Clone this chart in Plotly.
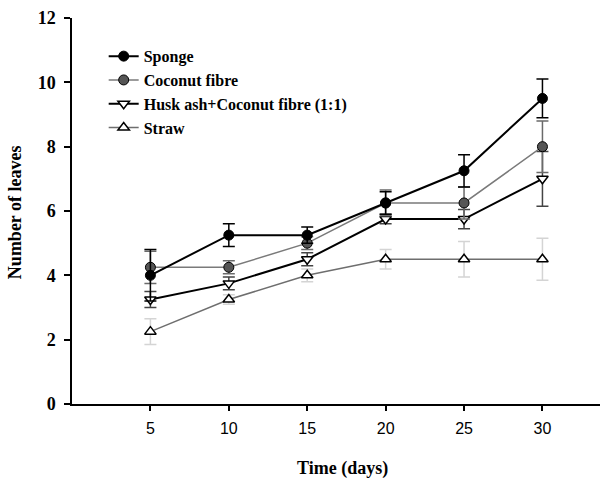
import plotly.graph_objects as go

days = [5, 10, 15, 20, 25, 30]
sponge = [4.0, 5.25, 5.25, 6.25, 7.25, 9.5]
sponge_err = [0.8, 0.35, 0.25, 0.35, 0.5, 0.6]
coconut = [4.25, 4.25, 5.0, 6.25, 6.25, 8.0]
coconut_err = [0.5, 0.2, 0.2, 0.4, 0.5, 0.8]
husk = [3.25, 3.75, 4.5, 5.75, 5.75, 7.0]
husk_err = [0.25, 0.2, 0.2, 0.15, 0.3, 0.85]
straw = [2.25, 3.25, 4.0, 4.5, 4.5, 4.5]
straw_err = [0.4, 0.15, 0.2, 0.3, 0.55, 0.65]

y_ticks = [0, 2, 4, 6, 8, 10, 12]

serif = "Liberation Serif, Times New Roman, serif"
sans = "Liberation Sans, Arial, sans-serif"

fig = go.Figure()

# drawing order: straw (back) -> sponge (front); legend order via legendrank
fig.add_trace(go.Scatter(
    x=days, y=straw, name="Straw", mode="lines+markers", legendrank=4,
    line=dict(color="#6e6e6e", width=1.5),
    marker=dict(symbol="triangle-up", size=10, color="white",
                line=dict(color="black", width=1.5)),
    error_y=dict(type="data", array=straw_err, color="#d4d4d4", thickness=1.5, width=6),
))
fig.add_trace(go.Scatter(
    x=days, y=husk, name="Husk ash+Coconut fibre (1:1)", mode="lines+markers", legendrank=3,
    line=dict(color="black", width=2),
    marker=dict(symbol="triangle-down", size=10, color="white",
                line=dict(color="black", width=1.5)),
    error_y=dict(type="data", array=husk_err, color="#444444", thickness=1.5, width=6),
))
fig.add_trace(go.Scatter(
    x=days, y=coconut, name="Coconut fibre", mode="lines+markers", legendrank=2,
    line=dict(color="#7a7a7a", width=1.5),
    marker=dict(symbol="circle", size=10, color="#555555",
                line=dict(color="black", width=1)),
    error_y=dict(type="data", array=coconut_err, color="#6a6a6a", thickness=1.5, width=6),
))
fig.add_trace(go.Scatter(
    x=days, y=sponge, name="Sponge", mode="lines+markers", legendrank=1,
    line=dict(color="black", width=2),
    marker=dict(symbol="circle", size=10, color="black",
                line=dict(color="black", width=1)),
    error_y=dict(type="data", array=sponge_err, color="black", thickness=1.5, width=6),
))

fig.update_layout(
    width=600, height=479,
    margin=dict(l=72, r=0, t=18, b=75),
    paper_bgcolor="white", plot_bgcolor="white",
    showlegend=True,
    legend=dict(
        x=0.06, y=0.945, xanchor="left", yanchor="top",
        bgcolor="rgba(0,0,0,0)",
        font=dict(family=serif, size=16, color="black", weight="bold"),
        tracegroupgap=0,
        itemwidth=30,
    ),
    xaxis=dict(
        range=[0, 33.67], tickvals=days, ticktext=[str(d) for d in days],
        showgrid=False, zeroline=False,
        showline=True, linecolor="black", linewidth=1.5,
        ticks="outside", ticklen=5, tickwidth=1.5, tickcolor="black",
        tickfont=dict(family=sans, size=16, color="black"),
        ticklabelstandoff=4,
    ),
    yaxis=dict(
        range=[0, 12], tickvals=y_ticks,
        showgrid=False, zeroline=False,
        showline=True, linecolor="black", linewidth=1.5,
        ticks="outside", ticklen=6, tickwidth=1.5, tickcolor="black",
        tickfont=dict(family=serif, size=18, color="black", weight="bold"),
        ticklabelstandoff=5,
    ),
    annotations=[
        dict(text="Time (days)", xref="paper", yref="paper", x=0.513, y=-0.168,
             xanchor="center", yanchor="middle", showarrow=False,
             font=dict(family=serif, size=18, color="black", weight="bold")),
        dict(text="Number of leaves", xref="paper", yref="paper", x=-0.108, y=0.497,
             xanchor="center", yanchor="middle", showarrow=False, textangle=-90,
             font=dict(family=serif, size=18, color="black", weight="bold")),
    ],
)

fig.write_html("out.html", config={"displayModeBar": False},
               post_script="document.body.style.margin='0';")
